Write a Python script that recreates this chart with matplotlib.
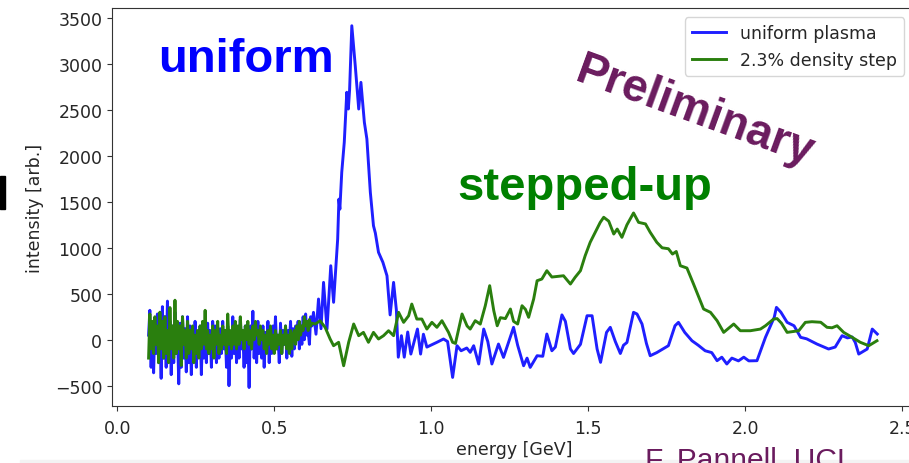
import numpy as np
import matplotlib
matplotlib.use("Agg")
import matplotlib.pyplot as plt
from matplotlib.patches import Rectangle

# energy grid of the low-energy (noisy) part of both spectra, GeV
noise_energy = np.linspace(0.10, 0.62, 131)

uniform_noise = [
    50, 320, -300, 150, -360, 200, -150, 280, -250, 100, -420,
    360, -200, 250, -300, 420, -100, 200, -380, 150, -250,
    300, -150, 100, -480, 180, -300, 250, -200, 120, -350,
    250, -250, 150, -380, 100, -200, 200, -300, 80, -150,
    150, -380, 120, -200, 60, -250, 180, -150, 100, -300,
    200, -100, 150, -250, 50, -200, 120, -150, 200, -100,
    100, -300, 150, -500, 50, -200, 250, -150, 180, -250,
    100, -200, 220, -100, 80, -300, 150, -250, 60, -520,
    150, -100, 310, -200, 100, -250, 200, -150, 50, -200,
    150, -300, 80, -100, 200, -250, 100, -150, 150, -50,
    250, -100, 50, -250, 180, -150, 100, -50, 150, -200,
    100, -50, 200, -180, 120, -100, 150, 0, 200, -100,
    150, -50, 250, 0, 280, 50, 100, -50, 250, 150,
]

step_noise = [
    -200, 280, -100, 200, -150, 250, -50, 150, -250, 300, -100,
    200, -200, 250, -150, 100, -250, 350, -100, 150, -200,
    430, -150, 200, -100, 150, -280, 250, -50, 100, -200,
    200, -150, 100, -100, 150, -250, 50, -150, 100, -200,
    150, -100, 200, -50, 320, -100, 100, -150, 50, -100,
    150, -200, 100, -50, 200, -150, 50, -100, 150, -50,
    100, -150, 280, -50, 100, -100, 150, -50, 200, -100,
    150, -50, 250, 0, 100, -100, 150, 0, 200, -50,
    100, -100, 150, 0, 200, 50, 100, -50, 150, 0,
    100, -100, 50, -150, 100, -50, 150, -100, 50, -150,
    100, -100, 50, -50, 100, -150, 50, -50, 150, -100,
    50, -150, 100, -100, 50, 100, -50, 150, 0, 200,
    50, 150, 100, 250, 150, 200, 100, 220, 150, 180,
]

# uniform plasma above 0.62 GeV
uniform_energy = [
    0.625, 0.633, 0.641, 0.649, 0.657, 0.668, 0.680, 0.689, 0.702, 0.706,
    0.709, 0.715, 0.723, 0.731, 0.736, 0.740, 0.747, 0.758, 0.769, 0.776,
    0.787, 0.795, 0.806, 0.816, 0.822, 0.832, 0.846, 0.859, 0.869, 0.880,
    0.889, 0.895, 0.905, 0.914, 0.925, 0.935, 0.956, 0.966, 0.975, 0.986,
    1.018, 1.039, 1.052, 1.068, 1.082, 1.095, 1.113, 1.124, 1.135, 1.151,
    1.167, 1.180, 1.193, 1.214, 1.230, 1.262, 1.275, 1.294, 1.305, 1.315,
    1.337, 1.355, 1.368, 1.384, 1.395, 1.416, 1.427, 1.443, 1.453, 1.475,
    1.496, 1.512, 1.528, 1.539, 1.558, 1.570, 1.586, 1.602, 1.612, 1.623,
    1.644, 1.655, 1.671, 1.685, 1.697, 1.718, 1.755, 1.776, 1.787, 1.807,
    1.830, 1.850, 1.872, 1.893, 1.910, 1.925, 1.941, 1.957, 1.978, 1.995,
    2.011, 2.037, 2.064, 2.092, 2.099, 2.113, 2.133, 2.155, 2.176, 2.195,
    2.228, 2.265, 2.286, 2.308, 2.325, 2.340, 2.350, 2.361, 2.388, 2.404,
    2.420,
]
uniform_intensity = [
    298, 60, 443, 120, 624, 116, 805, 407, 1096, 1530,
    1420, 1822, 2148, 2692, 2510, 2720, 3416, 2981, 2510, 2800,
    2365, 2184, 1604, 1240, 1160, 951, 842, 696, 270, 624,
    320, -190, 44, -190, 84, -156, 116, -156, 60, -80,
    -28, 8, -20, -410, -65, -120, -90, -137, -65, -264,
    116, -20, -264, -47, -192, 135, -60, -283, -200, -301,
    -174, -180, 62, -120, -80, 270, 200, -100, -150, -50,
    261, 261, -101, -246, 80, 135, -20, -150, -60, -30,
    298, 280, 171, -40, -174, -140, -65, 152, 189, 80,
    -11, -60, -120, -140, -228, -190, -264, -200, -230, -190,
    -230, -228, 26, 244, 352, 300, 189, 152, 26, 10,
    -47, -101, -80, 44, 20, 30, -30, -156, -101, 116,
    62,
]

# 2.3% density step above 0.62 GeV
step_energy = [
    0.631, 0.646, 0.662, 0.678, 0.689, 0.705, 0.721, 0.737, 0.753, 0.769,
    0.784, 0.800, 0.816, 0.832, 0.848, 0.864, 0.880, 0.896, 0.912, 0.928,
    0.938, 0.954, 0.970, 0.986, 1.002, 1.018, 1.034, 1.055, 1.068, 1.077,
    1.098, 1.114, 1.124, 1.140, 1.156, 1.172, 1.186, 1.199, 1.210, 1.220,
    1.236, 1.252, 1.262, 1.275, 1.289, 1.300, 1.310, 1.326, 1.337, 1.352,
    1.368, 1.384, 1.405, 1.421, 1.443, 1.458, 1.475, 1.490, 1.506, 1.522,
    1.538, 1.549, 1.565, 1.581, 1.592, 1.607, 1.623, 1.644, 1.660, 1.682,
    1.697, 1.718, 1.735, 1.755, 1.768, 1.780, 1.793, 1.814, 1.835, 1.867,
    1.889, 1.910, 1.931, 1.963, 1.984, 2.016, 2.048, 2.064, 2.090, 2.101,
    2.115, 2.133, 2.170, 2.191, 2.212, 2.240, 2.260, 2.276, 2.292, 2.313,
    2.340, 2.366, 2.393, 2.419,
]
step_intensity = [
    171, 207, 135, 8, -65, -28, -283, -28, 171, 44,
    80, -28, 80, 8, 44, 98, 44, 298, 189, 261,
    388, 225, 225, 116, 189, 135, 207, 80, -28, -40,
    280, 150, 116, 207, 170, 370, 588, 316, 152, 240,
    230, 334, 200, 171, 370, 330, 244, 443, 642, 660,
    751, 682, 690, 696, 606, 679, 751, 914, 1060, 1169,
    1277, 1332, 1290, 1150, 1204, 1114, 1250, 1379, 1277, 1260,
    1169, 1060, 1000, 990, 932, 960, 805, 780, 606, 334,
    298, 207, 80, 171, 98, 98, 116, 152, 225, 230,
    180, 80, 98, 189, 196, 190, 135, 130, 152, 80,
    26, -28, -65, -11,
]

x_uniform = np.concatenate([noise_energy, uniform_energy])
y_uniform = np.concatenate([uniform_noise, uniform_intensity])
x_step = np.concatenate([noise_energy, step_energy])
y_step = np.concatenate([step_noise, step_intensity])

W, H = 909, 464
fig = plt.figure(figsize=(W / 100, H / 100), dpi=100)
ax = fig.add_axes([112 / W, 1 - 407 / H, (917 - 112) / W, (407 - 9) / H])

ax.plot(x_uniform, y_uniform, color="#1f1fff", lw=2.1, label="uniform plasma")
ax.plot(x_step, y_step, color="#2a7f0e", lw=2.1, label="2.3% density step")

ax.set_xlim(-0.0165, 2.5465)
ax.set_ylim(-721, 3609)
ax.set_xticks([0.0, 0.5, 1.0, 1.5, 2.0, 2.5])
ax.set_yticks(np.arange(-500, 3501, 500))
ax.tick_params(labelsize=12.5, colors="#333333", labelcolor="#262626")
ax.tick_params(axis="x", pad=5.5)
for s in ax.spines.values():
    s.set_color("#333333")
ax.set_xlabel("energy [GeV]", fontsize=12.5, color="#262626", labelpad=2.5)
ax.set_ylabel("intensity [arb.]", fontsize=12.5, color="#262626", labelpad=8)

leg = ax.legend(loc="upper right", bbox_to_anchor=(0.984, 0.977),
                borderaxespad=0, fontsize=12.5)
for t in leg.get_texts():
    t.set_color("#262626")

bold = dict(family="Liberation Sans", weight="bold", fontsize=34)
fig.text(158 / W, 1 - 72 / H, "uniform", color="#0000ff", va="baseline", **bold)
fig.text(457 / W, 1 - 200 / H, "stepped-up", color="#008000", va="baseline", **bold)
fig.text(695 / W, 1 - 112 / H, "Preliminary", color="#6a1b5e", ha="center",
         va="center", rotation=-20, rotation_mode="anchor",
         family="Liberation Sans", weight="bold", fontsize=33)

# slide furniture around the plot
fig.patches.append(Rectangle((20 / W, 0), 1, 3 / H, transform=fig.transFigure,
                             color="#f3f3f3", zorder=-1))
fig.patches.append(Rectangle((0, 1 - 210 / H), 4.5 / W, 33 / H,
                             transform=fig.transFigure, color="black"))
fig.text(645 / W, -5.5 / H, "F. Pannell, UCL", color="#6a1b5e",
         family="Liberation Sans", fontsize=21.6, va="baseline")

fig.savefig("out.png", dpi=100)
